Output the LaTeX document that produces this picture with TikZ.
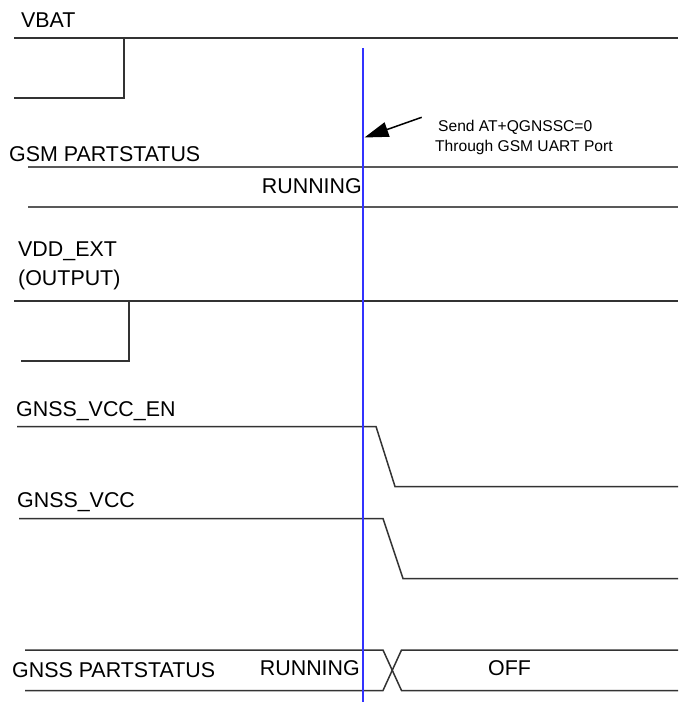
\documentclass[tikz,border=0pt]{standalone}
\usepackage{fontspec}
\setmainfont{Liberation Sans}
\usetikzlibrary{arrows.meta}

\begin{document}
\begin{tikzpicture}[x=1pt, y=-1pt, >=Triangle,
    sig/.style={draw=black!80, line width=1.5pt},
    bus/.style={draw=black!65, line width=1.8pt},
    lbl/.style={anchor=base west, inner sep=0, font=\fontsize{21.4}{24}\selectfont},
    note/.style={anchor=base west, inner sep=0, font=\fontsize{15.6}{18}\selectfont}]
    \useasboundingbox (0,0) rectangle (678,702);

    % signal names
    \node[lbl] (vbat) at (21,27) {VBAT};
    \node[lbl] (gsm) at (9,161) {GSM PARTSTATUS};
    \node[lbl] (vddext) at (18,256) {VDD\_EXT};
    \node[lbl] (vddout) at (18,285) {(OUTPUT)};
    \node[lbl] (gvccen) at (16,416.7) {GNSS\_VCC\_EN};
    \node[lbl] (gvcc) at (17,507) {GNSS\_VCC};
    \node[lbl] (gnss) at (12,677) {GNSS PARTSTATUS};

    % states
    \node[lbl, anchor=base east] (gsmrun) at (362,193) {RUNNING};
    \node[lbl, anchor=base east] (gnssrun) at (360,675) {RUNNING};
    \node[lbl] (gnssoff) at (488,675) {OFF};

    % waveforms
    \draw[sig] (14,38) -- (678,38);
    \draw[sig] (14,98) -- (124,98) -- (124,38);
    \draw[bus] (28,167) -- (678,167);
    \draw[bus] (28,207) -- (678,207);
    \draw[sig] (14,301) -- (678,301);
    \draw[sig] (21,361) -- (129,361) -- (129,301);
    \draw[sig] (17,426.5) -- (376,426.5) -- (395,486.5) -- (678,486.5);
    \draw[sig] (19,518.5) -- (383,518.5) -- (403,578.5) -- (678,578.5);
    \draw[sig] (25,650) -- (383,650) -- (401.5,690.5) -- (678,690.5);
    \draw[sig] (25,690.5) -- (383,690.5) -- (401.5,650) -- (678,650);

    % command marker
    \draw[blue!80, line width=1.4pt] (363,48) -- (363,702);
    \node[note] (send) at (438,131.7) {Send AT+QGNSSC=0};
    \node[note] (thru) at (435,151.7) {Through GSM UART Port};
    \coordinate (cmdtail) at (421.7,117.3);
    \coordinate (cmdtip) at (364.5,137.5);
    \draw[->, line width=1.5pt, >={Triangle[length=24pt,width=15pt]}] (cmdtail) -- (cmdtip);
\end{tikzpicture}
\end{document}
